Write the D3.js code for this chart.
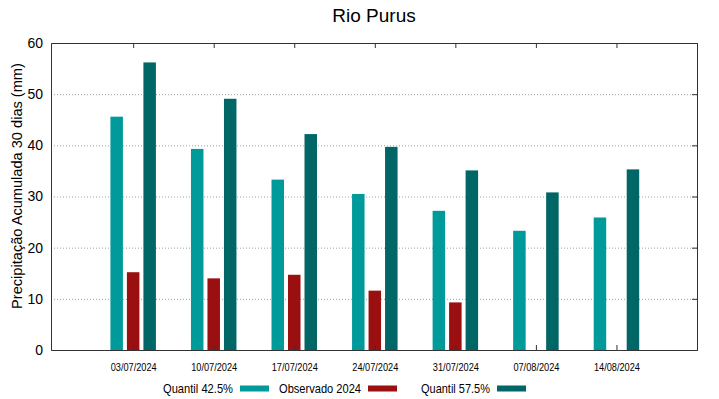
<!DOCTYPE html>
<html lang="pt">
<head>
<meta charset="UTF-8">
<title>Rio Purus</title>
<style>
  body { margin: 0; background: #fff; }
  text { font-family: "Liberation Sans", Arial, sans-serif; fill: #000; }
</style>
</head>
<body>
<svg width="719" height="399"></svg>
<script src="https://cdn.jsdelivr.net/npm/d3@7"></script>
<script>
var dates = ["03/07/2024", "10/07/2024", "17/07/2024", "24/07/2024", "31/07/2024", "07/08/2024", "14/08/2024"];
var q425 = [45.6, 39.3, 33.3, 30.5, 27.2, 23.3, 25.9];
var obs2024 = [15.2, 14.0, 14.7, 11.6, 9.3, null, null];
var q575 = [56.2, 49.1, 42.2, 39.7, 35.1, 30.8, 35.3];
var yTicks = [0, 10, 20, 30, 40, 50, 60];

var series = [
  {name: "Quantil 42.5%", values: q425, color: "#009a9a", offset: -16.5},
  {name: "Observado 2024", values: obs2024, color: "#9a0f0f", offset: 0},
  {name: "Quantil 57.5%", values: q575, color: "#006666", offset: 16.5}
];

var svg = d3.select("svg");
var pL = 51, pR = 697, pT = 43, pB = 350;
var barW = 12.5;

// categories sit at 0..6 inside a -1..7 domain
var x = d3.scaleLinear().domain([-1.02, 7]).range([pL, pR]);
var y = d3.scaleLinear().domain([0, 60]).range([pB, pT]);

// grid
svg.append("g").selectAll("line")
  .data(yTicks.filter(function(d) { return d > 0 && d < 60; }))
  .enter().append("line")
  .attr("x1", pL).attr("x2", pR)
  .attr("y1", function(d) { return y(d) + 0.5; })
  .attr("y2", function(d) { return y(d) + 0.5; })
  .attr("stroke", "#a0a0a0").attr("stroke-width", 1)
  .attr("stroke-dasharray", "1,2");

// bars
series.forEach(function(s) {
  svg.append("g").selectAll("rect")
    .data(s.values.map(function(v, i) { return {v: v, i: i}; }).filter(function(d) { return d.v != null; }))
    .enter().append("rect")
    .attr("x", function(d) { return x(d.i) + s.offset - barW / 2; })
    .attr("y", function(d) { return y(d.v); })
    .attr("width", barW)
    .attr("height", function(d) { return pB - y(d.v); })
    .attr("fill", s.color);
});

// axes
var catIdx = dates.map(function(d, i) { return i; });
svg.append("g")
  .attr("transform", "translate(0," + pB + ")")
  .call(d3.axisBottom(x).tickValues(catIdx).tickSize(-5).tickPadding(13)
    .tickFormat(function(i) { return dates[i]; }))
  .call(function(g) {
    g.select(".domain").attr("stroke", "#333");
    g.selectAll(".tick line").attr("stroke", "#333");
    g.selectAll("text").style("font-size", "11px")
      .attr("textLength", 46).attr("lengthAdjust", "spacingAndGlyphs");
  });
svg.append("g")
  .attr("transform", "translate(0," + pT + ")")
  .call(d3.axisTop(x).tickValues(catIdx).tickSize(-5).tickFormat(""))
  .call(function(g) {
    g.select(".domain").attr("stroke", "#333");
    g.selectAll(".tick line").attr("stroke", "#333");
  });
svg.append("g")
  .attr("transform", "translate(" + pL + ",0)")
  .call(d3.axisLeft(y).tickValues(yTicks).tickSize(0).tickPadding(8))
  .call(function(g) {
    g.select(".domain").attr("stroke", "#333");
    g.selectAll("text").style("font-size", "14px");
  });
svg.append("g")
  .attr("transform", "translate(" + pR + ",0)")
  .call(d3.axisRight(y).tickValues(yTicks).tickSize(-5).tickFormat(""))
  .call(function(g) {
    g.select(".domain").attr("stroke", "#333");
    g.selectAll(".tick line").attr("stroke", "#333");
  });

// title
svg.append("text")
  .attr("x", 374).attr("y", 22)
  .attr("text-anchor", "middle")
  .style("font-size", "19px")
  .text("Rio Purus");

// y label
svg.append("text")
  .attr("transform", "translate(22,186) rotate(-90)")
  .attr("text-anchor", "middle")
  .style("font-size", "14.6px")
  .text("Precipitação Acumulada 30 dias (mm)");

// legend
var legX = [233, 361, 490];
var legLen = [70, 82, 69];
var leg = svg.append("g");
series.forEach(function(s, i) {
  leg.append("text")
    .attr("x", legX[i] - legLen[i]).attr("y", 392.5)
    .style("font-size", "13.5px")
    .attr("textLength", legLen[i]).attr("lengthAdjust", "spacingAndGlyphs")
    .text(s.name);
  leg.append("rect")
    .attr("x", legX[i] + 7).attr("y", 385.5)
    .attr("width", 29).attr("height", 6)
    .attr("fill", s.color);
});
</script>
</body>
</html>
